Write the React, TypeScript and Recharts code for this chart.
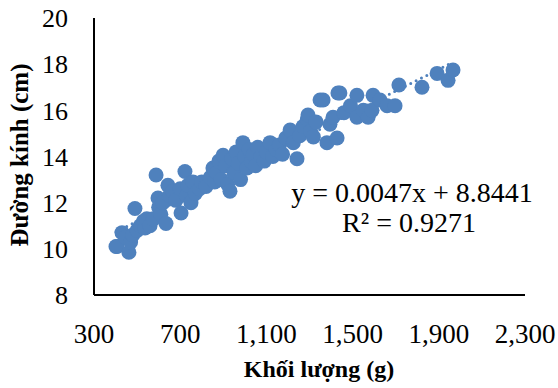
import {
  ScatterChart,
  Scatter,
  XAxis,
  YAxis,
  ReferenceLine,
  Customized,
} from "recharts";

// khối lượng (g) / đường kính (cm)
const weights = [
  402, 407, 430, 445, 462, 470, 480, 490, 500, 515, 530, 537, 545, 560, 575,
  588, 597, 600, 610, 620, 634, 643, 650, 665, 680, 700, 704, 722, 730, 736,
  750, 759, 770, 790, 800, 820, 840, 852, 860, 870, 880, 890, 899, 910, 920,
  931, 940, 950, 960, 970, 980, 991, 1000, 1010, 1020, 1030, 1040, 1050, 1060,
  1075, 1090, 1100, 1117, 1130, 1145, 1160, 1175, 1190, 1210, 1225, 1242, 1255,
  1270, 1290, 1293, 1305, 1318, 1330, 1349, 1363, 1381, 1395, 1409, 1428, 1432,
  1441, 1460, 1490, 1520, 1520, 1550, 1572, 1590, 1595, 1627, 1660, 1697, 1715,
  1822, 1892, 1943, 1966,
];
const diameters = [
  10.1, 10.1, 10.7, 10.5, 9.85, 10.3, 10.6, 11.75, 10.8, 11.0, 11.2, 10.9, 11.3,
  11.0, 11.3, 13.2, 12.2, 11.8, 11.5, 12.0, 11.1, 12.75, 12.3, 12.5, 12.1, 12.6,
  11.55, 13.35, 12.3, 12.75, 12.0, 12.9, 12.4, 12.6, 12.9, 12.7, 13.1, 13.5,
  12.9, 13.3, 13.8, 13.0, 14.05, 13.6, 12.8, 12.5, 13.9, 13.3, 14.2, 13.7, 13.0,
  14.6, 14.0, 13.5, 14.3, 13.8, 14.1, 13.6, 14.4, 14.0, 13.8, 14.2, 14.6, 14.0,
  14.3, 14.5, 14.1, 14.8, 15.15, 14.6, 13.9, 14.9, 15.3, 15.6, 15.8, 15.1, 14.85,
  15.5, 16.45, 16.45, 14.6, 15.4, 15.7, 14.8, 16.75, 16.75, 15.9, 16.2, 16.65,
  15.7, 16.0, 15.7, 16.0, 16.65, 16.45, 16.2, 16.2, 17.1, 17.0, 17.6, 17.3, 17.75,
];

const xTicks = [300, 700, 1100, 1500, 1900, 2300];
const yTicks = [8, 10, 12, 14, 16, 18, 20];

const xTitle = "Khối lượng (g)";
const yTitle = "Đường kính (cm)";

// trendline shown on the chart
const slope = 0.0047;
const intercept = 8.8441;
const equation = "y = 0.0047x + 8.8441";
const rSquared = "R² = 0.9271";

const BLUE = "#4F81BD";
const FONT = '"Liberation Serif", "Times New Roman", serif';

const points = weights.map((w, i) => ({ x: w, y: diameters[i] }));
const xMin = Math.min(...weights);
const xMax = Math.max(...weights);

const Dot = (props: any) => (
  <circle cx={props.cx} cy={props.cy} r={7.5} fill={BLUE} />
);

const Texts = () => (
  <g fontFamily={FONT} fill="#000">
    <text x={412} y={202} textAnchor="middle" fontSize={28}>
      {equation}
    </text>
    <text x={409} y={232} textAnchor="middle" fontSize={28}>
      {rSquared}
    </text>
    <text
      x={319}
      y={377}
      textAnchor="middle"
      fontSize={24}
      fontWeight="bold"
    >
      {xTitle}
    </text>
    <text
      transform="translate(28,155) rotate(-90)"
      textAnchor="middle"
      fontSize={25}
      fontWeight="bold"
    >
      {yTitle}
    </text>
  </g>
);

export default function App() {
  return (
    <div style={{ position: "absolute", left: 0, top: 0, background: "#fff" }}>
      <ScatterChart
        width={558}
        height={388}
        margin={{ top: 18, right: 33, bottom: 0, left: 0 }}
      >
        <XAxis
          type="number"
          dataKey="x"
          domain={[300, 2300]}
          ticks={xTicks}
          tickFormatter={(v: number) => v.toLocaleString("en-US")}
          height={93}
          tickLine={false}
          tickSize={0}
          tickMargin={29}
          axisLine={{ stroke: "#000", strokeWidth: 2 }}
          tick={{ fill: "#000", fontSize: 27, fontFamily: FONT }}
        />
        <YAxis
          type="number"
          dataKey="y"
          domain={[8, 20]}
          ticks={yTicks}
          width={94}
          tickLine={false}
          tickSize={0}
          tickMargin={26}
          axisLine={{ stroke: "#000", strokeWidth: 2 }}
          tick={{ fill: "#000", fontSize: 26, fontFamily: FONT }}
        />
        <Scatter
          data={points}
          fill={BLUE}
          shape={Dot}
          isAnimationActive={false}
        />
        <ReferenceLine
          segment={[
            { x: xMin, y: slope * xMin + intercept },
            { x: xMax, y: slope * xMax + intercept },
          ]}
          stroke={BLUE}
          strokeWidth={3}
          strokeDasharray="0 6"
          strokeLinecap="round"
        />
        <Customized component={Texts} />
      </ScatterChart>
    </div>
  );
}
